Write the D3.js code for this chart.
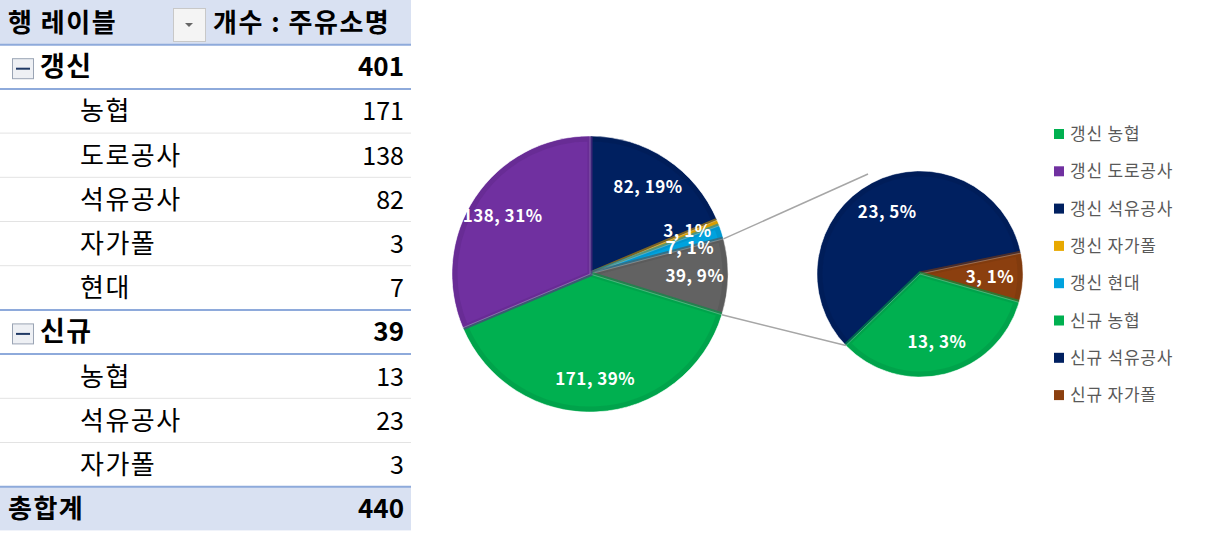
<!DOCTYPE html>
<html><head><meta charset="utf-8">
<script src="https://cdn.jsdelivr.net/npm/d3@7"></script>
<style>body{margin:0;background:#fff}text{font-family:"Noto Sans CJK KR","Noto Sans",sans-serif}</style>
</head><body><svg id="c" width="1210" height="533"></svg>
<script>
const groups = ["갱신","신규"];
const groupTotals = [401, 39];
const renewNames = ["농협","도로공사","석유공사","자가폴","현대"];
const renewValues = [171,138,82,3,7];
const newNames = ["농협","석유공사","자가폴"];
const newValues = [13,23,3];
const grandTotal = 440;
const mainOrder = ["갱신 석유공사","갱신 자가폴","갱신 현대","기타","갱신 농협","갱신 도로공사"];
const mainValues = [82,3,7,39,171,138];
const mainPct = ["19%","1%","1%","9%","39%","31%"];
const subOrder = ["신규 석유공사","신규 자가폴","신규 농협"];
const subValues = [23,3,13];
const subPct = ["5%","1%","3%"];
const legendNames = ["갱신 농협","갱신 도로공사","갱신 석유공사","갱신 자가폴","갱신 현대","신규 농협","신규 석유공사","신규 자가폴"];
const colors = {"갱신 농협":"#00b050","갱신 도로공사":"#7030a0","갱신 석유공사":"#002060","갱신 자가폴":"#e8a900","갱신 현대":"#00a2de","기타":"#626262","신규 농협":"#00b050","신규 석유공사":"#002060","신규 자가폴":"#8b3f0f"};

const svg = d3.select("#c");
const rowH = 44.2, tw = 411;
const rows = [{t:"header"},{t:"group",n:groups[0],v:groupTotals[0]}];
renewNames.forEach((n,i)=>rows.push({t:"item",n,v:renewValues[i]}));
rows.push({t:"group",n:groups[1],v:groupTotals[1]});
newNames.forEach((n,i)=>rows.push({t:"item",n,v:newValues[i]}));
rows.push({t:"total",n:"총합계",v:grandTotal});
const y = i=>i*rowH;
rows.forEach((r,i)=>{
  const g = svg.append("g").attr("transform",`translate(0,${y(i)})`);
  if(r.t==="header"||r.t==="total") g.append("rect").attr("width",tw).attr("height",rowH).attr("fill","#d9e1f2");
  const cy = rowH/2+10;
  const T=(x,s,b,anchor,txt)=>g.append("text").attr("x",x).attr("y",cy).attr("font-size",s).attr("font-weight",b?"bold":"normal").attr("text-anchor",anchor||"start").attr("letter-spacing",anchor==="end"?0:1.5).text(txt);
  if(r.t==="header"){
    T(8,26,1,null,"행 레이블");
    g.append("rect").attr("x",173.5).attr("y",8.5).attr("width",32).attr("height",33).attr("fill","#f4f4f4").attr("stroke","#c8c8c8");
    g.append("path").attr("d","M185,23 l8,0 l-4,4 z").attr("fill","#666");
    T(213,26,1,null,"개수 : 주유소명");
  } else if(r.t==="group"){
    g.append("rect").attr("x",12.5).attr("y",14.5).attr("width",21).attr("height",20).attr("fill","#eef0f4").attr("stroke","#9aa4b4");
    g.append("line").attr("x1",16).attr("x2",30).attr("y1",24.5).attr("y2",24.5).attr("stroke","#1f3864").attr("stroke-width",2);
    T(40,27,1,null,r.n); T(404,26,1,"end",r.v);
  } else if(r.t==="item"){
    T(80,26,0,null,r.n); T(404,25,0,"end",r.v);
  } else {
    T(8,26,1,null,r.n); T(404,26,1,"end",r.v);
  }
  if(r.t!=="header"){
    const blue = r.t!=="item" || (i>0 && rows[i-1].t==="group");
    g.append("line").attr("x1",0).attr("x2",tw).attr("y1",0.5).attr("y2",0.5).attr("stroke",blue?"#8eaadb":"#e3e3e3").attr("stroke-width",blue?2:1);
  }
});

const deg = Math.PI/180;
function drawPie(cx,cy,r,names,values,pcts,start,labelF,nudge){
  const pie = d3.pie().sort(null).startAngle(start).endAngle(start+2*Math.PI)(values);
  const arc = d3.arc().innerRadius(0).outerRadius(r);
  const g = svg.append("g").attr("transform",`translate(${cx},${cy})`);
  pie.forEach((d,i)=>{
    const c = colors[names[i]];
    g.append("path").attr("d",arc(d)).attr("fill",c).attr("stroke","#fff").attr("stroke-width",0.6);
    const inner = d3.arc().innerRadius(0).outerRadius(r-3);
    g.append("path").attr("d",inner(d)).attr("fill","none").attr("stroke",d3.color(c).darker(0.35)).attr("stroke-width",5).attr("stroke-opacity",0.6);
  });
  pie.forEach((d,i)=>{
    const a=(d.startAngle+d.endAngle)/2, rr=r*labelF;
    const dy = nudge ? nudge[i] : 0;
    g.append("text").attr("x",Math.sin(a)*rr).attr("y",-Math.cos(a)*rr+6+dy).attr("text-anchor","middle")
      .attr("font-size",17).attr("font-weight","bold").attr("fill","#fff").attr("letter-spacing",0.5)
      .text(`${values[i]},\u00a0${pcts[i]}`);
  });
  return pie;
}
const mcx=590,mcy=274,mr=138, scx=920,scy=274,sr=103;
const mp = drawPie(mcx,mcy,mr,mainOrder,mainValues,mainPct,0,0.76,[0,-4,6,0,0,0]);
const sp = drawPie(scx,scy,sr,subOrder,subValues,subPct,226*deg,0.68);
const o = mp[3];
const p1=[mcx+Math.sin(o.startAngle)*mr, mcy-Math.cos(o.startAngle)*mr];
const p2=[mcx+Math.sin(o.endAngle)*mr, mcy-Math.cos(o.endAngle)*mr];
const sa = sp[0].startAngle;
const q2=[scx+Math.sin(sa)*sr, scy-Math.cos(sa)*sr];
svg.append("line").attr("x1",p1[0]).attr("y1",p1[1]).attr("x2",868).attr("y2",174).attr("stroke","#a6a6a6").attr("stroke-width",1.5);
svg.append("line").attr("x1",p2[0]).attr("y1",p2[1]).attr("x2",q2[0]).attr("y2",q2[1]).attr("stroke","#a6a6a6").attr("stroke-width",1.5);

const lg = svg.append("g");
legendNames.forEach((n,i)=>{
  const yy = 134+i*37.3;
  lg.append("rect").attr("x",1054).attr("y",yy-5).attr("width",10).attr("height",10).attr("fill",colors[n]);
  lg.append("text").attr("x",1070).attr("y",yy+6).attr("font-size",17).attr("fill","#595959").attr("letter-spacing",0.8).text(n);
});
</script></body></html>
